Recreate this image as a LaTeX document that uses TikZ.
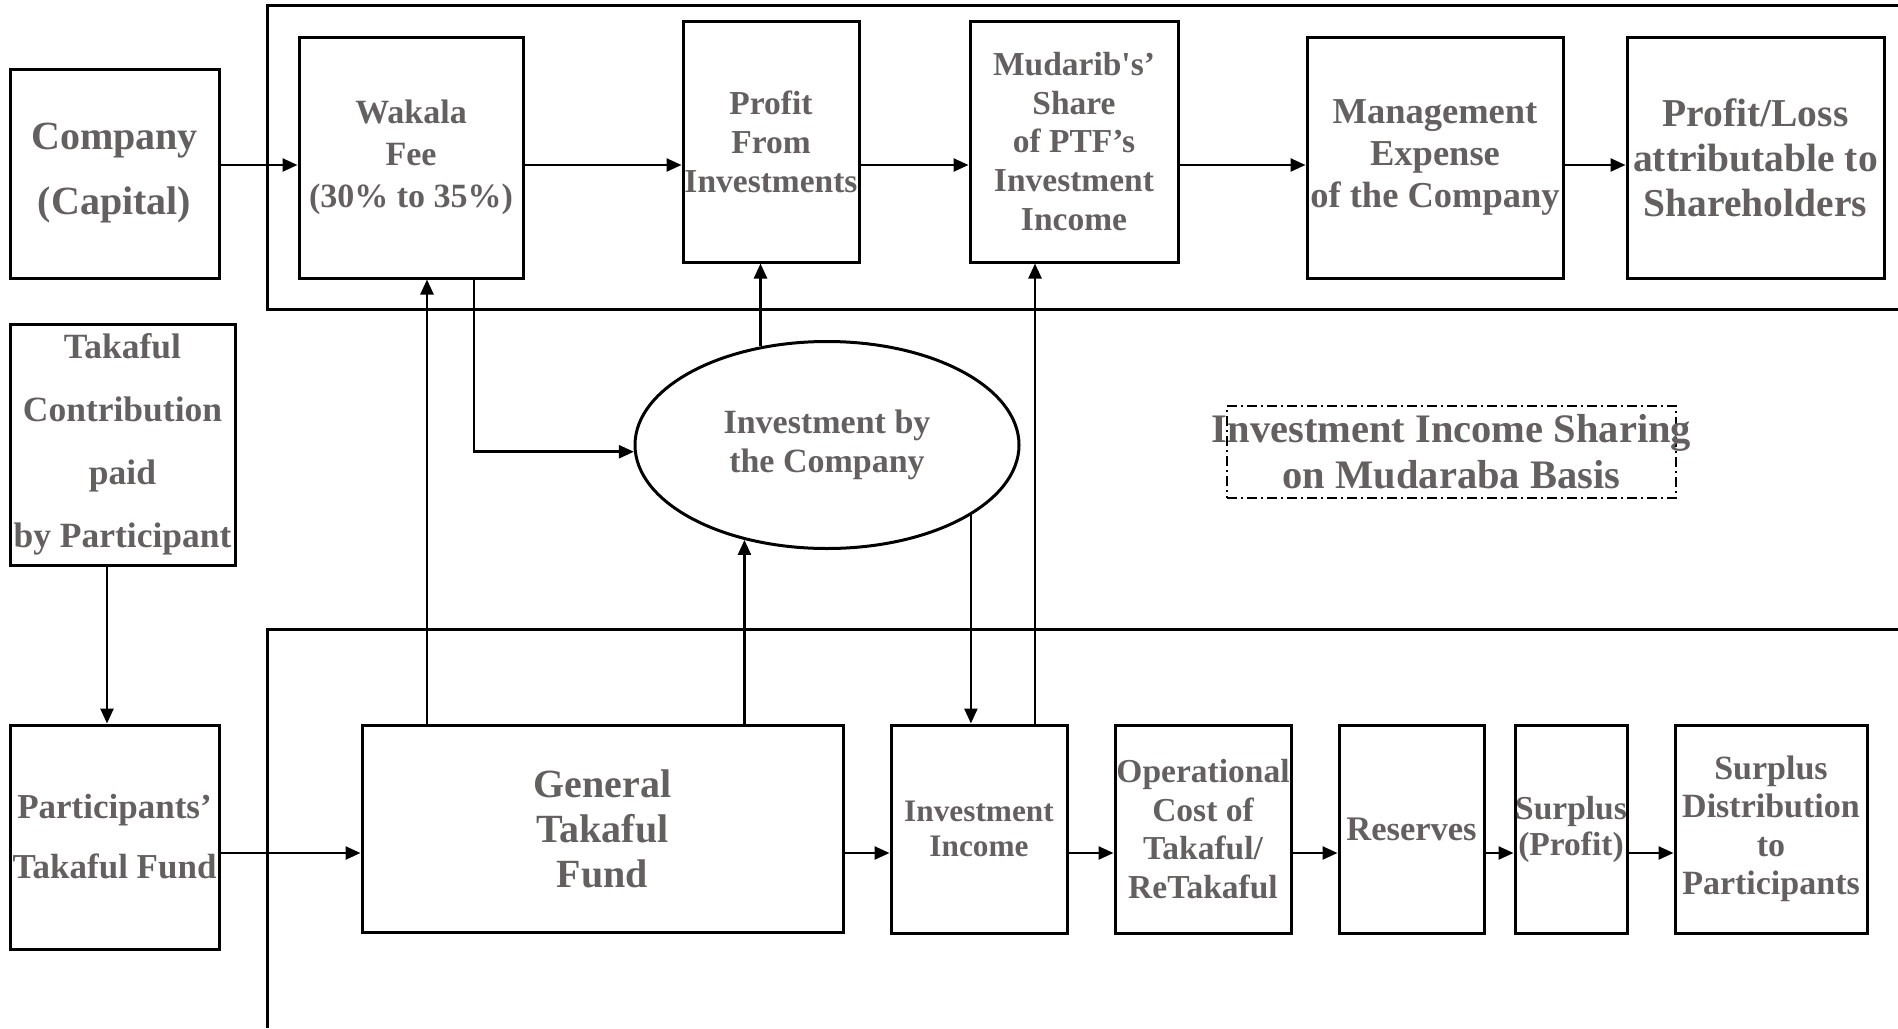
\documentclass[tikz,border=0pt]{standalone}
\usepackage{fontspec}
\setmainfont{Liberation Serif}
\usetikzlibrary{arrows.meta,shapes.geometric}
\definecolor{txtgray}{RGB}{100,96,96}

\begin{document}
\begin{tikzpicture}[x=1pt, y=-1pt, line width=2.5pt,
    >={Triangle[length=15pt,width=13pt]},
    box/.style={draw, line width=3pt, align=center, inner sep=0pt,
        text=txtgray, font=\bfseries},
    fnt/.style 2 args={font=\bfseries\fontsize{#1}{#2}\selectfont},
    frame/.style={line width=3pt}]
    \useasboundingbox (0,0) rectangle (1898,1028);

    \node[box, minimum width=209, minimum height=209, fnt={40}{65}]
        (company) at (114.5,173.5) {Company\\(Capital)};
    \node[box, minimum width=224, minimum height=241, fnt={34}{42}]
        (wakala) at (411,157.5) {Wakala\\Fee\\(30\% to 35\%)};
    \node[box, minimum width=176, minimum height=241, fnt={33.5}{39}]
        (pfi) at (771,141.5) {Profit\\From\\Investments};
    \node[box, minimum width=208, minimum height=241, fnt={33.5}{38.7}]
        (mudarib) at (1074,141.5) {Mudarib\textquotesingle s'\\Share\\of PTF's\\Investment\\Income};
    \node[box, minimum width=256, minimum height=241, fnt={36.5}{42}]
        (mgmt) at (1435,157.5) {Management\\Expense\\of the Company};
    \node[box, minimum width=257, minimum height=241, fnt={39.5}{45}]
        (pl) at (1755.5,157.5) {Profit/Loss\\attributable to\\Shareholders};

    \node[box, minimum width=225, minimum height=241, fnt={35.5}{63}]
        (contrib) at (122.5,444.5) {Takaful\\Contribution\\paid\\by Participant};
    \node[box, minimum width=209, minimum height=224, fnt={35}{60}]
        (ptf) at (114.5,837) {Participants'\\Takaful Fund};

    \node[box, ellipse, minimum width=384, minimum height=207, fnt={34}{39}]
        (ell) at (827,445) {Investment by\\the Company};
    \node[box, line width=2pt, dash pattern=on 10pt off 4pt on 2pt off 4pt,
        minimum width=449, minimum height=92, fnt={40.5}{46}]
        (mudaraba) at (1451.5,452) {\makebox[440pt]{Investment Income Sharing}\\on Mudaraba Basis};

    \node[box, minimum width=481, minimum height=207, fnt={40}{45}]
        (gtf) at (602.5,828.5) {General\\Takaful\\Fund};
    \node[box, minimum width=176, minimum height=208, fnt={31.3}{35}]
        (ii) at (979,829) {Investment\\Income};
    \node[box, minimum width=176, minimum height=208, fnt={33.5}{38.5}]
        (opc) at (1203,829) {Operational\\Cost of\\Takaful/\\ReTakaful};
    \node[box, minimum width=145, minimum height=208, fnt={34.5}{40}]
        (res) at (1411.5,829) {Reserves};
    \node[box, minimum width=112, minimum height=208, fnt={33.5}{36}]
        (spl) at (1571,829) {Surplus\\(Profit)};
    \node[box, minimum width=192, minimum height=208, fnt={34}{38.5}]
        (sdp) at (1771,829) {Surplus\\Distribution\\to\\Participants};

    \coordinate (toprow) at (0,165);
    \coordinate (botrow) at (0,853);

    \draw[frame] (1898,5) -| (267,309) -- (1898,309);
    \draw[frame] (1898,629) -| (267,1028);

    \draw[->] (company.east |- toprow) -- (wakala.west |- toprow);
    \draw[->] (wakala.east |- toprow) -- (pfi.west |- toprow);
    \draw[->] (pfi.east |- toprow) -- (mudarib.west |- toprow);
    \draw[->] (mudarib.east |- toprow) -- (mgmt.west |- toprow);
    \draw[->] (mgmt.east |- toprow) -- (pl.west |- toprow);

    \draw[->] (contrib.south -| 107,0) -- (ptf.north -| 107,0);

    \draw[->] (ptf.east |- botrow) -- (gtf.west |- botrow);
    \draw[->] (gtf.east |- botrow) -- (ii.west |- botrow);
    \draw[->] (ii.east |- botrow) -- (opc.west |- botrow);
    \draw[->] (opc.east |- botrow) -- (res.west |- botrow);
    \draw[->] (res.east |- botrow) -- (spl.west |- botrow);
    \draw[->] (spl.east |- botrow) -- (sdp.west |- botrow);

    \draw[->] (gtf.north -| 427,0) -- (wakala.south -| 427,0);
    \draw[->] ([xshift=63pt]wakala.south) |- (ell.182);
    \draw[->] (ell.124) -- (pfi.south -| ell.124);
    \draw[->] (gtf.north -| ell.229) -- (ell.229);
    \draw[->] (ell.334) -- (ii.north -| ell.334);
    \draw[->] (ii.north -| 1035,0) -- (mudarib.south -| 1035,0);
\end{tikzpicture}
\end{document}
